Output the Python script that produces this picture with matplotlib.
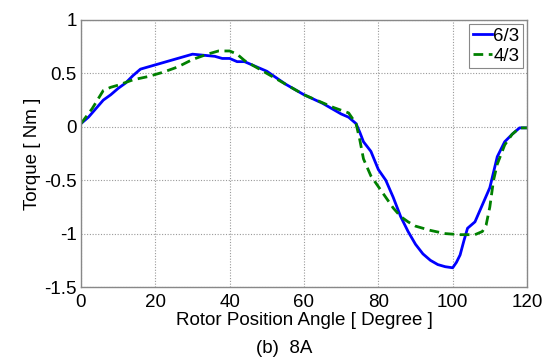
import matplotlib
matplotlib.use("Agg")
import matplotlib.pyplot as plt

# Rotor position angle [deg] and torque [Nm]
angle_63 = [0, 2, 4, 6, 8, 10, 12, 14, 16, 20, 25, 30, 33, 36, 38, 40, 42, 44, 50, 55,
            60, 65, 70, 72, 74, 75, 76, 78, 80, 82, 84, 86, 88, 90, 92, 94, 96, 98,
            100, 101, 102, 103, 104, 106, 108, 110, 112, 114, 116, 118, 120]
torque_63 = [0.03, 0.09, 0.17, 0.25, 0.30, 0.36, 0.41, 0.48, 0.54, 0.58, 0.63, 0.68, 0.67,
             0.66, 0.64, 0.64, 0.61, 0.61, 0.52, 0.40, 0.30, 0.22, 0.12, 0.09, 0.03, -0.05,
             -0.14, -0.23, -0.40, -0.50, -0.66, -0.84, -0.98, -1.10, -1.19, -1.25, -1.29,
             -1.31, -1.32, -1.27, -1.20, -1.07, -0.95, -0.89, -0.73, -0.57, -0.28, -0.14,
             -0.07, -0.01, -0.01]

angle_43 = [0, 3, 6, 8, 10, 14, 18, 22, 26, 30, 34, 37, 40, 42, 44, 48, 52, 56, 60, 64,
            68, 72, 74, 75, 76, 78, 80, 82, 84, 86, 88, 90, 94, 98, 102, 106, 108, 109,
            110, 111, 112, 114, 116, 118, 120]
torque_43 = [0.03, 0.17, 0.34, 0.37, 0.39, 0.44, 0.47, 0.51, 0.56, 0.63, 0.68, 0.71, 0.71,
             0.68, 0.62, 0.54, 0.46, 0.38, 0.30, 0.24, 0.18, 0.13, 0.03, -0.12, -0.30,
             -0.46, -0.56, -0.66, -0.76, -0.84, -0.89, -0.93, -0.97, -1.00, -1.01, -1.01,
             -0.98, -0.92, -0.75, -0.50, -0.35, -0.17, -0.07, -0.01, -0.01]

x_ticks = [0, 20, 40, 60, 80, 100, 120]
y_ticks = [-1.5, -1, -0.5, 0, 0.5, 1]
y_tick_labels = ["-1.5", "-1", "-0.5", "0", "0.5", "1"]

plt.rcParams["font.family"] = ["Liberation Sans", "DejaVu Sans"]

fig = plt.figure(figsize=(5.49, 3.62), dpi=100)
ax = fig.add_axes([81 / 549, 75 / 362, 446 / 549, 267 / 362])

ax.plot(angle_63, torque_63, color="#0000ff", lw=2.0, label="6/3")
ax.plot(angle_43, torque_43, color="#008000", lw=2.0, ls=(0, (3.5, 2)), label="4/3")

ax.set_xlim(0, 120)
ax.set_ylim(-1.5, 1)
ax.set_xticks(x_ticks)
ax.set_yticks(y_ticks)
ax.set_yticklabels(y_tick_labels)
ax.tick_params(labelsize=13.5, length=0)
ax.tick_params(axis="x", pad=5)
ax.tick_params(axis="y", pad=3)
ax.grid(True, color="#999999", ls=(0, (1, 1.5)), lw=0.8)
for s in ax.spines.values():
    s.set_color("#888888")
    s.set_linewidth(1.0)

ax.set_xlabel("Rotor Position Angle [ Degree ]", fontsize=13.5, labelpad=1)
ax.set_ylabel("Torque [ Nm ]", fontsize=13.5, labelpad=2.5)

leg = ax.legend(loc="upper right", fontsize=13.5, handlelength=1.0, handletextpad=0.1,
                borderpad=0.2, labelspacing=0.15, fancybox=False, framealpha=1,
                borderaxespad=0.2)
leg.get_frame().set_edgecolor("#888888")
leg.get_frame().set_linewidth(0.8)

fig.text(0.517, 0.036, "(b)  8A", fontsize=13.5, ha="center", va="center")

fig.savefig("out.png", dpi=100)
